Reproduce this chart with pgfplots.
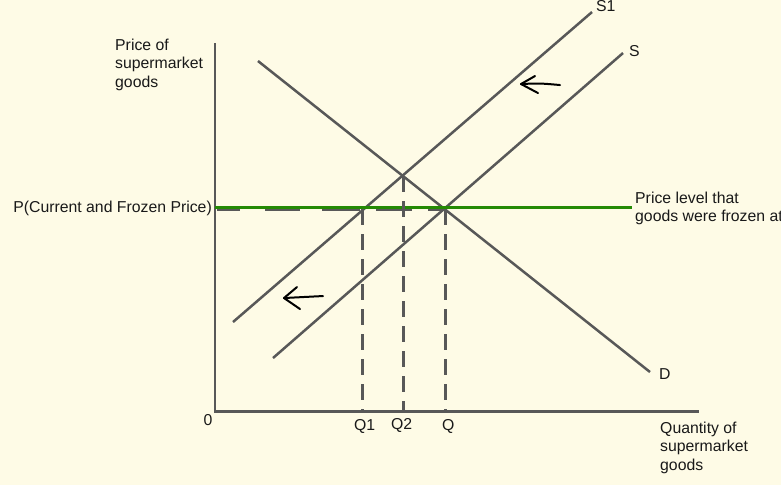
\documentclass[border=0pt]{standalone}
\usepackage{pgfplots}
\pgfplotsset{compat=1.18}
\usepackage{fontspec}
\setmainfont{Liberation Sans}
\definecolor{bg}{RGB}{254,251,230}
\definecolor{ln}{RGB}{88,88,88}
\definecolor{gr}{RGB}{36,138,4}
\definecolor{tx}{RGB}{25,25,25}
\begin{document}
\begin{tikzpicture}
\begin{axis}[
  scale only axis, width=781pt, height=485pt,
  xmin=0, xmax=781, ymin=0, ymax=485, y dir=reverse,
  axis lines=none, clip=false,
  axis background/.style={fill=bg},
  every axis plot/.append style={line cap=butt},
  unbounded coords=jump,
  nodes={font=\fontsize{15.8}{18.5}\selectfont, text=tx, inner sep=0pt},
]
% axes
\addplot[ln, line width=2.6pt, no marks] coordinates {(215,43) (215,411.5) (699,411.5)};
% demand
\addplot[ln, line width=2.5pt, no marks] coordinates {(258,61) (650,372)};
% S1
\addplot[ln, line width=2.5pt, no marks] coordinates {(233,322) (592,12)};
% S
\addplot[ln, line width=2.5pt, no marks] coordinates {(273,358) (623,53)};
% dashed gray horizontal (mostly under the green line)
\addplot[ln, line width=3pt, no marks] coordinates {(217,209.3) (240,209.3) (241,nan) (265,209.3) (300,209.3) (301,nan) (322,209.3) (360,209.3) (361,nan) (376,209.3) (412,209.3) (413,nan) (428,209.3) (445,209.3)};
% green price line
\addplot[gr, line width=3pt, no marks] coordinates {(215,207.8) (632,207.8)};
% dashed verticals
\addplot[ln, line width=3pt, no marks, dash pattern=on 16pt off 9pt] coordinates {(362,209) (362,411)};
\addplot[ln, line width=3pt, no marks, dash pattern=on 16pt off 9pt] coordinates {(403,176) (403,411)};
\addplot[ln, line width=3pt, no marks, dash pattern=on 16pt off 9pt] coordinates {(445,209) (445,411)};
% hand-drawn arrows
\addplot[black, line width=2pt, no marks, smooth, line cap=round] coordinates {(521,84) (540,83.5) (560,85)};
\addplot[black, line width=2pt, no marks, line cap=round, line join=round] coordinates {(535,76) (521,84) (538,93)};
\addplot[black, line width=2pt, no marks, line cap=round] coordinates {(284,298) (323,296)};
\addplot[black, line width=2pt, no marks, line cap=round, line join=round] coordinates {(297,287) (284,298) (300,309)};
% labels
\node[anchor=base west] at (axis cs:115,50) {Price of};
\node[anchor=base west] at (axis cs:115,68.5) {supermarket};
\node[anchor=base west] at (axis cs:115,87) {goods};
\node[anchor=base east] at (axis cs:212,212) {P(Current and Frozen Price)};
\node[anchor=base west, overlay] at (axis cs:635,203) {Price level that};
\node[anchor=base west, overlay] at (axis cs:635,221.5) {goods were frozen at};
\node[anchor=base west] at (axis cs:660,433) {Quantity of};
\node[anchor=base west] at (axis cs:660,451.5) {supermarket};
\node[anchor=base west] at (axis cs:660,470) {goods};
\node[anchor=base west] at (axis cs:659,379) {D};
\node[anchor=base west] at (axis cs:596,11) {S1};
\node[anchor=base west] at (axis cs:629,56) {S};
\node[anchor=base west] at (axis cs:354,430) {Q1};
\node[anchor=base west] at (axis cs:391,429) {Q2};
\node[anchor=base west] at (axis cs:442,430) {Q};
\node[anchor=base] at (axis cs:208,425) {0};
\end{axis}
\end{tikzpicture}
\end{document}
